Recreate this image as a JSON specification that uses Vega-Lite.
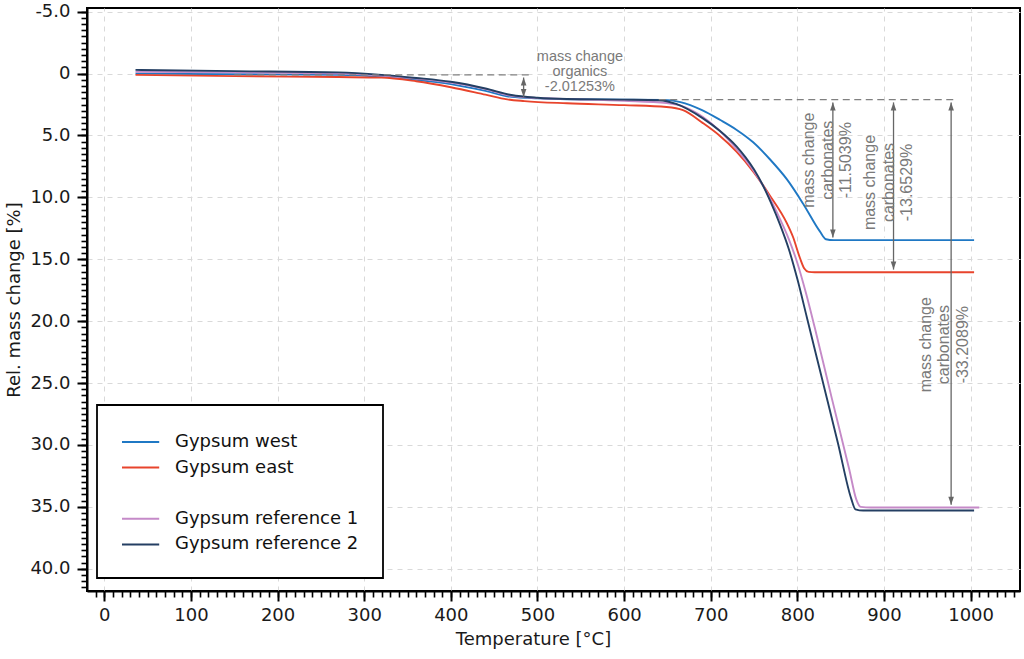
{
  "$schema": "https://vega.github.io/schema/vega-lite/v6.json",
  "width": 933,
  "height": 583,
  "autosize": {"type": "none"},
  "padding": {"left": 87, "top": 8, "right": 4, "bottom": 68},
  "background": "white",
  "datasets": {
    "curves": [
      {"s": "Gypsum west", "T": 36, "m": 0.0}, {"s": "Gypsum west", "T": 150, "m": 0.05}, {"s": "Gypsum west", "T": 270, "m": 0.1},
      {"s": "Gypsum west", "T": 320, "m": 0.25}, {"s": "Gypsum west", "T": 360, "m": 0.5}, {"s": "Gypsum west", "T": 400, "m": 0.85},
      {"s": "Gypsum west", "T": 440, "m": 1.4}, {"s": "Gypsum west", "T": 470, "m": 1.88}, {"s": "Gypsum west", "T": 500, "m": 2.0},
      {"s": "Gypsum west", "T": 534, "m": 2.07}, {"s": "Gypsum west", "T": 600, "m": 2.1}, {"s": "Gypsum west", "T": 645, "m": 2.12},
      {"s": "Gypsum west", "T": 665, "m": 2.3}, {"s": "Gypsum west", "T": 690, "m": 2.95}, {"s": "Gypsum west", "T": 711, "m": 3.75},
      {"s": "Gypsum west", "T": 730, "m": 4.55}, {"s": "Gypsum west", "T": 749, "m": 5.55}, {"s": "Gypsum west", "T": 768, "m": 6.9},
      {"s": "Gypsum west", "T": 788, "m": 8.55}, {"s": "Gypsum west", "T": 807, "m": 10.55}, {"s": "Gypsum west", "T": 826, "m": 12.75},
      {"s": "Gypsum west", "T": 833, "m": 13.38}, {"s": "Gypsum west", "T": 842, "m": 13.45}, {"s": "Gypsum west", "T": 1004, "m": 13.45},

      {"s": "Gypsum east", "T": 36, "m": 0.1}, {"s": "Gypsum east", "T": 150, "m": 0.2}, {"s": "Gypsum east", "T": 270, "m": 0.28},
      {"s": "Gypsum east", "T": 320, "m": 0.32}, {"s": "Gypsum east", "T": 360, "m": 0.62}, {"s": "Gypsum east", "T": 400, "m": 1.1},
      {"s": "Gypsum east", "T": 440, "m": 1.7}, {"s": "Gypsum east", "T": 465, "m": 2.08}, {"s": "Gypsum east", "T": 485, "m": 2.22},
      {"s": "Gypsum east", "T": 534, "m": 2.4}, {"s": "Gypsum east", "T": 600, "m": 2.55}, {"s": "Gypsum east", "T": 649, "m": 2.7},
      {"s": "Gypsum east", "T": 668, "m": 2.95}, {"s": "Gypsum east", "T": 691, "m": 4.0}, {"s": "Gypsum east", "T": 710, "m": 5.0},
      {"s": "Gypsum east", "T": 730, "m": 6.32}, {"s": "Gypsum east", "T": 750, "m": 8.0}, {"s": "Gypsum east", "T": 768, "m": 9.82},
      {"s": "Gypsum east", "T": 788, "m": 12.1}, {"s": "Gypsum east", "T": 795, "m": 13.2}, {"s": "Gypsum east", "T": 803, "m": 14.9},
      {"s": "Gypsum east", "T": 808, "m": 15.75}, {"s": "Gypsum east", "T": 813, "m": 16.02}, {"s": "Gypsum east", "T": 820, "m": 16.05},
      {"s": "Gypsum east", "T": 1004, "m": 16.05},

      {"s": "Gypsum reference 1", "T": 36, "m": -0.15}, {"s": "Gypsum reference 1", "T": 150, "m": -0.1}, {"s": "Gypsum reference 1", "T": 270, "m": 0.0},
      {"s": "Gypsum reference 1", "T": 320, "m": 0.15}, {"s": "Gypsum reference 1", "T": 360, "m": 0.4}, {"s": "Gypsum reference 1", "T": 400, "m": 0.73},
      {"s": "Gypsum reference 1", "T": 440, "m": 1.25}, {"s": "Gypsum reference 1", "T": 470, "m": 1.8}, {"s": "Gypsum reference 1", "T": 500, "m": 1.97},
      {"s": "Gypsum reference 1", "T": 534, "m": 2.05}, {"s": "Gypsum reference 1", "T": 600, "m": 2.2}, {"s": "Gypsum reference 1", "T": 649, "m": 2.38},
      {"s": "Gypsum reference 1", "T": 670, "m": 2.7}, {"s": "Gypsum reference 1", "T": 691, "m": 3.5}, {"s": "Gypsum reference 1", "T": 710, "m": 4.6},
      {"s": "Gypsum reference 1", "T": 730, "m": 6.1}, {"s": "Gypsum reference 1", "T": 740, "m": 6.95}, {"s": "Gypsum reference 1", "T": 750, "m": 7.9},
      {"s": "Gypsum reference 1", "T": 760, "m": 9.0}, {"s": "Gypsum reference 1", "T": 770, "m": 10.3}, {"s": "Gypsum reference 1", "T": 780, "m": 11.75},
      {"s": "Gypsum reference 1", "T": 790, "m": 13.35}, {"s": "Gypsum reference 1", "T": 800, "m": 15.3}, {"s": "Gypsum reference 1", "T": 810, "m": 17.75},
      {"s": "Gypsum reference 1", "T": 820, "m": 20.5}, {"s": "Gypsum reference 1", "T": 840, "m": 26.3}, {"s": "Gypsum reference 1", "T": 860, "m": 32.0},
      {"s": "Gypsum reference 1", "T": 868, "m": 34.4}, {"s": "Gypsum reference 1", "T": 873, "m": 35.0}, {"s": "Gypsum reference 1", "T": 885, "m": 35.05},
      {"s": "Gypsum reference 1", "T": 1010, "m": 35.05},

      {"s": "Gypsum reference 2", "T": 36, "m": -0.3}, {"s": "Gypsum reference 2", "T": 150, "m": -0.2}, {"s": "Gypsum reference 2", "T": 270, "m": -0.1},
      {"s": "Gypsum reference 2", "T": 320, "m": 0.1}, {"s": "Gypsum reference 2", "T": 360, "m": 0.35}, {"s": "Gypsum reference 2", "T": 400, "m": 0.66},
      {"s": "Gypsum reference 2", "T": 440, "m": 1.2}, {"s": "Gypsum reference 2", "T": 470, "m": 1.73}, {"s": "Gypsum reference 2", "T": 500, "m": 1.95},
      {"s": "Gypsum reference 2", "T": 534, "m": 2.05}, {"s": "Gypsum reference 2", "T": 600, "m": 2.1}, {"s": "Gypsum reference 2", "T": 640, "m": 2.15},
      {"s": "Gypsum reference 2", "T": 660, "m": 2.45}, {"s": "Gypsum reference 2", "T": 691, "m": 3.62}, {"s": "Gypsum reference 2", "T": 710, "m": 4.6},
      {"s": "Gypsum reference 2", "T": 730, "m": 5.9}, {"s": "Gypsum reference 2", "T": 740, "m": 6.75}, {"s": "Gypsum reference 2", "T": 750, "m": 7.75},
      {"s": "Gypsum reference 2", "T": 760, "m": 9.0}, {"s": "Gypsum reference 2", "T": 770, "m": 10.5}, {"s": "Gypsum reference 2", "T": 780, "m": 12.2},
      {"s": "Gypsum reference 2", "T": 790, "m": 14.15}, {"s": "Gypsum reference 2", "T": 800, "m": 16.6}, {"s": "Gypsum reference 2", "T": 811, "m": 19.7},
      {"s": "Gypsum reference 2", "T": 829, "m": 24.8}, {"s": "Gypsum reference 2", "T": 847, "m": 29.9}, {"s": "Gypsum reference 2", "T": 862, "m": 34.3},
      {"s": "Gypsum reference 2", "T": 867, "m": 35.2}, {"s": "Gypsum reference 2", "T": 876, "m": 35.3}, {"s": "Gypsum reference 2", "T": 1004, "m": 35.3}
    ],
    "levels": [
      {"T": 150, "T2": 492, "m": 0.1},
      {"T": 640, "T2": 982, "m": 2.11}
    ],
    "arrows": [
      {"T": 484, "m": 0.1, "m2": 2.11},
      {"T": 841, "m": 2.11, "m2": 13.45},
      {"T": 911, "m": 2.11, "m2": 16.05},
      {"T": 977.5, "m": 2.11, "m2": 35.05}
    ],
    "notes": [
      {"T": 549, "m": -1.36, "label": "mass change\norganics\n-2.01253%"}
    ],
    "vnotes": [
      {"T": 813.5, "m": 7.0, "label": "mass change\ncarbonates\n-11.5039%"},
      {"T": 884, "m": 8.8, "label": "mass change\ncarbonates\n-13.6529%"},
      {"T": 948, "m": 21.9, "label": "mass change\ncarbonates\n-33.2089%"}
    ]
  },
  "resolve": {"axis": {"x": "independent", "y": "independent"}},
  "layer": [
    {
      "data": {"name": "curves"},
      "mark": {"type": "line", "interpolate": "monotone", "stroke": "white", "strokeWidth": 4.5},
      "encoding": {
        "x": {"field": "T", "type": "quantitative", "scale": {"domain": [-20, 1057], "nice": false, "zero": false},
          "axis": {"orient": "bottom", "values": [-10,0,10,20,30,40,50,60,70,80,90,100,110,120,130,140,150,160,170,180,190,200,210,220,230,240,250,260,270,280,290,300,310,320,330,340,350,360,370,380,390,400,410,420,430,440,450,460,470,480,490,500,510,520,530,540,550,560,570,580,590,600,610,620,630,640,650,660,670,680,690,700,710,720,730,740,750,760,770,780,790,800,810,820,830,840,850,860,870,880,890,900,910,920,930,940,950,960,970,980,990,1000,1010,1020,1030,1040,1050],
            "labels": false, "domain": false, "grid": false, "title": null, "tickSize": 6, "tickWidth": 1.6}},
        "y": {"field": "m", "type": "quantitative", "scale": {"domain": [-5.3, 41.8], "reverse": true, "nice": false, "zero": false},
          "axis": {"orient": "left", "values": [-5,-4.5,-4,-3.5,-3,-2.5,-2,-1.5,-1,-0.5,0,0.5,1,1.5,2,2.5,3,3.5,4,4.5,5,5.5,6,6.5,7,7.5,8,8.5,9,9.5,10,10.5,11,11.5,12,12.5,13,13.5,14,14.5,15,15.5,16,16.5,17,17.5,18,18.5,19,19.5,20,20.5,21,21.5,22,22.5,23,23.5,24,24.5,25,25.5,26,26.5,27,27.5,28,28.5,29,29.5,30,30.5,31,31.5,32,32.5,33,33.5,34,34.5,35,35.5,36,36.5,37,37.5,38,38.5,39,39.5,40,40.5,41,41.5],
            "labels": false, "domain": false, "grid": false, "title": null, "tickSize": 6, "tickWidth": 1.6}},
        "detail": {"field": "s", "type": "nominal"}
      }
    },
    {
      "encoding": {
        "x": {"field": "T", "type": "quantitative", "scale": {"domain": [-20, 1057], "nice": false, "zero": false},
          "axis": {"orient": "bottom", "values": [0,100,200,300,400,500,600,700,800,900,1000], "format": "d", "grid": true,
            "tickSize": 10, "labelPadding": 5, "title": "Temperature [°C]", "titlePadding": 6, "titleX": 446}},
        "y": {"field": "m", "type": "quantitative", "scale": {"domain": [-5.3, 41.8], "reverse": true, "nice": false, "zero": false},
          "axis": {"orient": "left", "values": [-5,0,5,10,15,20,25,30,35,40], "grid": true, "tickSize": 10, "labelPadding": 7,
            "labelExpr": "datum.value == 0 ? '0' : (datum.value < 0 ? '-' + format(-datum.value, '.1f') : format(datum.value, '.1f'))",
            "title": "Rel. mass change [%]", "titlePadding": 6}}
      },
      "layer": [
        {
          "data": {"name": "curves"},
          "mark": {"type": "line", "interpolate": "monotone", "strokeWidth": 1.9},
          "encoding": {
            "color": {"field": "s", "type": "nominal",
              "scale": {"domain": ["Gypsum west", "Gypsum east", " ", "Gypsum reference 1", "Gypsum reference 2"],
                "range": ["#1f78c4", "#e8442c", "transparent", "#c58ac8", "#243f63"]},
              "legend": {"title": null, "orient": "none", "legendX": 10, "legendY": 397,
                "symbolType": "M-1,0H2.1", "symbolSize": 576, "symbolStrokeWidth": 2,
                "labelFont": "DejaVu Sans", "labelFontSize": 18, "labelColor": "#111111", "labelOffset": 28, "labelLimit": 400,
                "rowPadding": 3.6, "padding": 24, "strokeColor": "black", "fillColor": "white", "cornerRadius": 0,
                "encode": {"legend": {"update": {"strokeWidth": {"value": 1.8}}}}}
            }
          }
        },
        {
          "data": {"name": "levels"},
          "mark": {"type": "rule", "color": "#808080", "strokeWidth": 1.3, "strokeDash": [7, 4.5]},
          "encoding": {"x2": {"field": "T2"}}
        },
        {
          "data": {"name": "arrows"},
          "mark": {"type": "rule", "color": "#666666", "strokeWidth": 1.3, "yOffset": 2.7, "y2Offset": -2.7},
          "encoding": {"y2": {"field": "m2"}}
        },
        {
          "data": {"name": "arrows"},
          "mark": {"type": "point", "shape": "M0,-1L0.7,1L-0.7,1Z", "size": 64, "filled": true, "color": "#666666", "opacity": 1, "yOffset": 6.7}
        },
        {
          "data": {"name": "arrows"},
          "mark": {"type": "point", "shape": "M0,1L0.7,-1L-0.7,-1Z", "size": 64, "filled": true, "color": "#666666", "opacity": 1, "yOffset": -6.7},
          "encoding": {
            "y": {"field": "m2", "type": "quantitative", "scale": {"domain": [-5.3, 41.8], "reverse": true, "nice": false, "zero": false},
              "axis": {"orient": "left", "values": [-5,0,5,10,15,20,25,30,35,40], "grid": true, "tickSize": 10, "labelPadding": 7,
                "labelExpr": "datum.value == 0 ? '0' : (datum.value < 0 ? '-' + format(-datum.value, '.1f') : format(datum.value, '.1f'))",
                "title": "Rel. mass change [%]", "titlePadding": 6}}
          }
        },
        {
          "data": {"name": "notes"},
          "mark": {"type": "text", "lineBreak": "\n", "align": "center", "baseline": "middle", "font": "Liberation Sans",
            "fontSize": 14.5, "lineHeight": 15, "color": "#7a7a7a"},
          "encoding": {"text": {"field": "label"}}
        },
        {
          "data": {"name": "vnotes"},
          "mark": {"type": "text", "lineBreak": "\n", "align": "center", "baseline": "middle", "angle": 270, "font": "Liberation Sans",
            "fontSize": 16, "lineHeight": 18.5, "color": "#7a7a7a"},
          "encoding": {"text": {"field": "label"}}
        }
      ]
    }
  ],
  "config": {
    "view": {"stroke": "black", "strokeWidth": 2},
    "axis": {
      "domainColor": "black", "domainWidth": 2, "tickColor": "black", "tickWidth": 2,
      "labelFont": "DejaVu Sans", "labelFontSize": 18, "labelColor": "#1a1a1a",
      "titleFont": "DejaVu Sans", "titleFontSize": 18, "titleFontWeight": "normal", "titleColor": "#1a1a1a",
      "gridColor": "#d9d9d9", "gridDash": [5, 5], "gridWidth": 1
    }
  }
}
